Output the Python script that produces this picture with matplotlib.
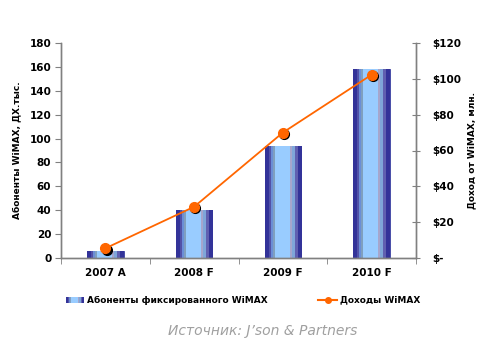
import numpy as np
import matplotlib
matplotlib.use("Agg")
import matplotlib.pyplot as plt
from matplotlib.colors import to_rgb
from matplotlib.lines import Line2D
import matplotlib.transforms as mtransforms

categories = ["2007 A", "2008 F", "2009 F", "2010 F"]
subscribers = [6, 40, 94, 158]
revenue = [5.4, 28.6, 70, 102.3]
left_ticks = [0, 20, 40, 60, 80, 100, 120, 140, 160, 180]
right_ticks = [0, 20, 40, 60, 80, 100, 120]
right_labels = ["$-", "$20", "$40", "$60", "$80", "$100", "$120"]

plt.rcParams['font.family'] = ['DejaVu Sans']
fig = plt.figure(figsize=(4.98, 3.53), dpi=100)
W, H = 498, 353
ax = fig.add_axes([61 / W, (H - 258) / H, (416 - 61) / W, (258 - 43) / H])
ax2 = ax.twinx()

gray = "#808080"
# stripe pattern across a bar (relative widths, colours)
stripes = [(12, "#333399"), (6, "#5252a8"), (7, "#6b8ed6"), (5, "#7f9fbf"),
           (45, "#99ccff"), (5, "#a6a6cc"), (10, "#7fa6d9"), (7, "#6060b0"), (13, "#333399")]
cols = []
for n, c in stripes:
    cols += [to_rgb(c)] * n
stripe_img = np.array(cols).reshape(1, -1, 3)

x = np.arange(len(categories))
bw = 0.41
bars = ax.bar(x, subscribers, width=bw, color="#99ccff", edgecolor="#333399", linewidth=0.6, zorder=2)
for b in bars:
    x0, w, h = b.get_x(), b.get_width(), b.get_height()
    im = ax.imshow(stripe_img, aspect="auto", extent=(x0, x0 + w, 0, h), zorder=2.5,
                   interpolation="nearest")
    im.set_clip_path(b)

ax.set_xlim(-0.5, len(categories) - 0.5)
ax.set_ylim(0, 180)
ax.set_yticks(left_ticks)
ax.set_xticks(x)
ax.set_xticklabels(categories, fontsize=7.5, fontweight="bold")
ax.set_xticks(np.arange(-0.5, len(categories), 1.0), minor=True)
ax.tick_params(axis="x", which="major", length=0, pad=7)
ax.tick_params(axis="x", which="minor", length=4, color=gray, direction="out")
ax.tick_params(axis="y", length=4, color=gray, labelsize=7.5, pad=3)
for lab in ax.get_yticklabels():
    lab.set_fontweight("bold")
ax.set_ylabel("Абоненты WiMAX, ДХ.тыс.", fontsize=6.5, fontweight="bold", labelpad=6)

ax2.set_ylim(0, 120)
ax2.set_yticks(right_ticks)
ax2.set_yticklabels(right_labels, fontsize=7.5, fontweight="bold")
ax2.tick_params(axis="y", length=6, color=gray, direction="inout", pad=9)
ax2.set_ylabel("Доход от WiMAX, млн.", fontsize=6.5, fontweight="bold", labelpad=4)

for a in (ax, ax2):
    a.spines["top"].set_visible(False)
    for s in ("left", "right", "bottom"):
        a.spines[s].set_color(gray)
        a.spines[s].set_linewidth(1.0)
    a.set_facecolor("none")

orange = "#ff6600"
shadow = mtransforms.offset_copy(ax2.transData, fig=fig, x=1.2, y=-1.2, units="dots")
ax2.plot(x, revenue, "o", color="black", markersize=7, transform=shadow, zorder=4, clip_on=False)
ax2.plot(x, revenue, "-", color=orange, linewidth=1.3, zorder=5, clip_on=False)
ax2.plot(x, revenue, "o", color=orange, markersize=7, zorder=6, clip_on=False)

# legend
lax = fig.add_axes([66 / W, (H - 303) / H, 18 / W, 6 / H])
lax.imshow(stripe_img, aspect="auto", extent=(0, 1, 0, 1), interpolation="nearest")
lax.set_axis_off()
fig.text(87 / W, (H - 300) / H, "Абоненты фиксированного WiMAX", fontsize=6.5, fontweight="bold", va="center")
fig.add_artist(Line2D([318 / W, 337 / W], [(H - 300) / H] * 2, color=orange, linewidth=1.5,
                      transform=fig.transFigure))
fig.add_artist(Line2D([327.5 / W], [(H - 300) / H], marker="o", color=orange, markersize=4,
                      transform=fig.transFigure))
fig.text(340 / W, (H - 300) / H, "Доходы WiMAX", fontsize=6.5, fontweight="bold", va="center")

fig.text(263 / W, (H - 331) / H, "Источник: J’son & Partners", fontsize=10, style="italic",
         color="#a0a0a0", ha="center", va="center")

fig.savefig("out.png", dpi=100)
